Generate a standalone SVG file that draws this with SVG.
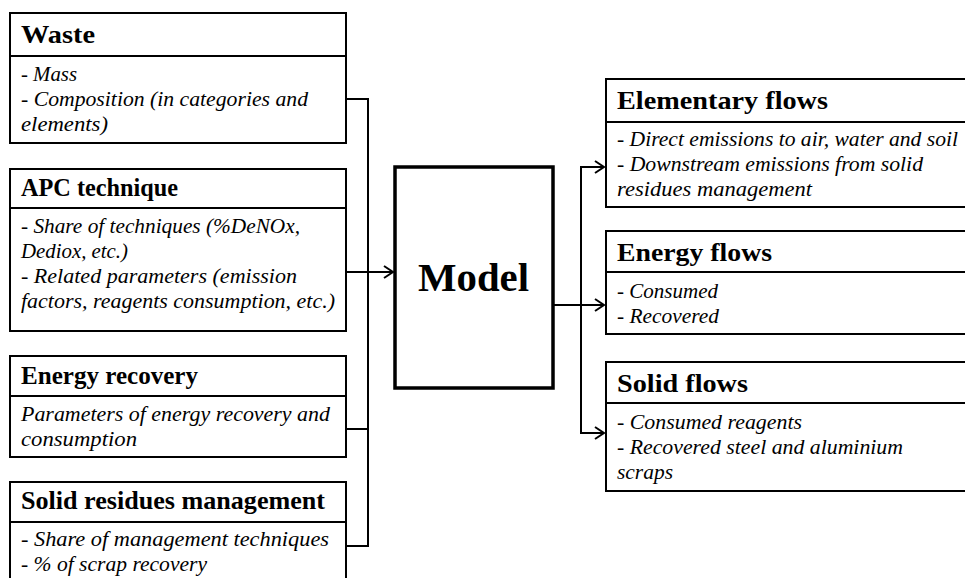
<svg xmlns="http://www.w3.org/2000/svg" width="965" height="578" viewBox="0 0 965 578">
<defs>
<style>
.box{fill:#fff;stroke:#000;stroke-width:2}
.div{stroke:#000;stroke-width:2}
.t{font-family:"Liberation Serif","DejaVu Serif",serif;font-weight:bold;font-size:25px;fill:#000}
.i{font-family:"Liberation Serif","DejaVu Serif",serif;font-style:italic;font-size:21px;fill:#000}
.c{fill:none;stroke:#000;stroke-width:2}
</style>
<marker id="arr" markerWidth="14" markerHeight="14" refX="12" refY="7" orient="auto" markerUnits="userSpaceOnUse">
<path d="M3,1 L12,7 L3,13" fill="none" stroke="#000" stroke-width="2"/>
</marker>
</defs>
<rect width="965" height="578" fill="#fff"/>
<g id="connectors">
<path class="c" d="M346,99 H368 V546 H346"/>
<path class="c" d="M346,429 H368"/>
<path class="c" d="M346,272 H393" marker-end="url(#arr)"/>
<path class="c" d="M553,305 H604" marker-end="url(#arr)"/>
<path class="c" d="M604,167 H581 V433 H604" marker-end="url(#arr)"/>
<path class="c" d="M581,167 H604" marker-end="url(#arr)"/>
</g>
<g id="waste">
<rect class="box" x="10" y="13" width="336" height="130"/>
<line class="div" x1="10" y1="56" x2="346" y2="56"/>
<text class="t" x="21" y="43" textLength="74" lengthAdjust="spacingAndGlyphs">Waste</text>
<text class="i" x="21" y="81" textLength="56" lengthAdjust="spacingAndGlyphs">- Mass</text>
<text class="i" x="21" y="106" textLength="287" lengthAdjust="spacingAndGlyphs">- Composition (in categories and</text>
<text class="i" x="21" y="131" textLength="87" lengthAdjust="spacingAndGlyphs">elements)</text>
</g>
<g id="apc">
<rect class="box" x="10" y="169" width="336" height="162"/>
<line class="div" x1="10" y1="208" x2="346" y2="208"/>
<text class="t" x="21" y="196" textLength="157" lengthAdjust="spacingAndGlyphs">APC technique</text>
<text class="i" x="21" y="233" textLength="279" lengthAdjust="spacingAndGlyphs">- Share of techniques (%DeNOx,</text>
<text class="i" x="21" y="258" textLength="107" lengthAdjust="spacingAndGlyphs">Dediox, etc.)</text>
<text class="i" x="21" y="283" textLength="276" lengthAdjust="spacingAndGlyphs">- Related parameters (emission</text>
<text class="i" x="21" y="308" textLength="314" lengthAdjust="spacingAndGlyphs">factors, reagents consumption, etc.)</text>
</g>
<g id="energy-recovery">
<rect class="box" x="10" y="356" width="336" height="101"/>
<line class="div" x1="10" y1="396" x2="346" y2="396"/>
<text class="t" x="21" y="384" textLength="177" lengthAdjust="spacingAndGlyphs">Energy recovery</text>
<text class="i" x="21" y="421" textLength="309" lengthAdjust="spacingAndGlyphs">Parameters of energy recovery and</text>
<text class="i" x="21" y="446" textLength="116" lengthAdjust="spacingAndGlyphs">consumption</text>
</g>
<g id="solid-residues">
<rect class="box" x="10" y="482" width="336" height="110"/>
<line class="div" x1="10" y1="522" x2="346" y2="522"/>
<text class="t" x="21" y="509" textLength="304" lengthAdjust="spacingAndGlyphs">Solid residues management</text>
<text class="i" x="21" y="546" textLength="308" lengthAdjust="spacingAndGlyphs">- Share of management techniques</text>
<text class="i" x="21" y="571" textLength="186" lengthAdjust="spacingAndGlyphs">- % of scrap recovery</text>
</g>
<g id="model">
<rect x="395" y="167" width="158" height="221" fill="#fff" stroke="#000" stroke-width="3.5"/>
<text x="418" y="291" textLength="111" lengthAdjust="spacingAndGlyphs" font-family="Liberation Serif, DejaVu Serif, serif" font-weight="bold" font-size="41">Model</text>
</g>
<g id="elementary-flows">
<rect class="box" x="606" y="79" width="370" height="128"/>
<line class="div" x1="606" y1="122" x2="976" y2="122"/>
<text class="t" x="617" y="109" textLength="211" lengthAdjust="spacingAndGlyphs">Elementary flows</text>
<text class="i" x="617" y="146" textLength="341" lengthAdjust="spacingAndGlyphs">- Direct emissions to air, water and soil</text>
<text class="i" x="617" y="171" textLength="306" lengthAdjust="spacingAndGlyphs">- Downstream emissions from solid</text>
<text class="i" x="617" y="196" textLength="195" lengthAdjust="spacingAndGlyphs">residues management</text>
</g>
<g id="energy-flows">
<rect class="box" x="606" y="231" width="370" height="103"/>
<line class="div" x1="606" y1="272" x2="976" y2="272"/>
<text class="t" x="617" y="261" textLength="155" lengthAdjust="spacingAndGlyphs">Energy flows</text>
<text class="i" x="617" y="298" textLength="101" lengthAdjust="spacingAndGlyphs">- Consumed</text>
<text class="i" x="617" y="323" textLength="102" lengthAdjust="spacingAndGlyphs">- Recovered</text>
</g>
<g id="solid-flows">
<rect class="box" x="606" y="362" width="370" height="129"/>
<line class="div" x1="606" y1="403" x2="976" y2="403"/>
<text class="t" x="617" y="392" textLength="131" lengthAdjust="spacingAndGlyphs">Solid flows</text>
<text class="i" x="617" y="429" textLength="185" lengthAdjust="spacingAndGlyphs">- Consumed reagents</text>
<text class="i" x="617" y="454" textLength="286" lengthAdjust="spacingAndGlyphs">- Recovered steel and aluminium</text>
<text class="i" x="617" y="479" textLength="56" lengthAdjust="spacingAndGlyphs">scraps</text>
</g>
</svg>
